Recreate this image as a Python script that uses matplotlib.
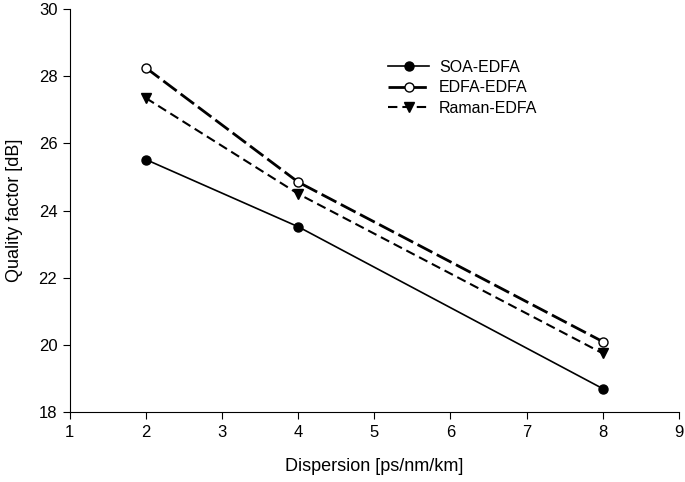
import matplotlib
matplotlib.use("Agg")
import matplotlib.pyplot as plt

plt.rcParams['font.family'] = ['Liberation Sans', 'DejaVu Sans']

x = [2, 4, 8]
soa_edfa = [25.52, 23.52, 18.7]
edfa_edfa = [28.25, 24.85, 20.1]
raman_edfa = [27.35, 24.5, 19.75]

fig = plt.figure(figsize=(6.85, 4.82), dpi=100)
ax = fig.add_axes([0.102, 0.145, 0.889, 0.836])

ax.plot(x, soa_edfa, color='black', lw=1.2, marker='o', ms=6.5, mfc='black', label='SOA-EDFA')
ax.plot(x, edfa_edfa, color='black', lw=2.0, dashes=(6, 1.8), marker='o', ms=6.5, mfc='white',
        mew=1.0, label='EDFA-EDFA')
ax.plot(x, raman_edfa, color='black', lw=1.5, dashes=(4.5, 2.4), marker='v', ms=7.5, mfc='black',
        label='Raman-EDFA')

ax.set_xlim(1, 9)
ax.set_ylim(18, 30)
ax.set_xticks(range(1, 10))
ax.set_yticks(range(18, 31, 2))
ax.spines['top'].set_visible(False)
ax.spines['right'].set_visible(False)
ax.tick_params(direction='out', length=5, labelsize=12, pad=4)
ax.set_xlabel('Dispersion [ps/nm/km]', fontsize=13, labelpad=13)
ax.set_ylabel('Quality factor [dB]', fontsize=13, labelpad=11)

ax.legend(loc='upper left', bbox_to_anchor=(0.522, 0.875), frameon=False, fontsize=11.5,
          handlelength=2.6, handletextpad=0.6, labelspacing=0.35, borderpad=0, borderaxespad=0)

fig.savefig('out.png', dpi=100)
